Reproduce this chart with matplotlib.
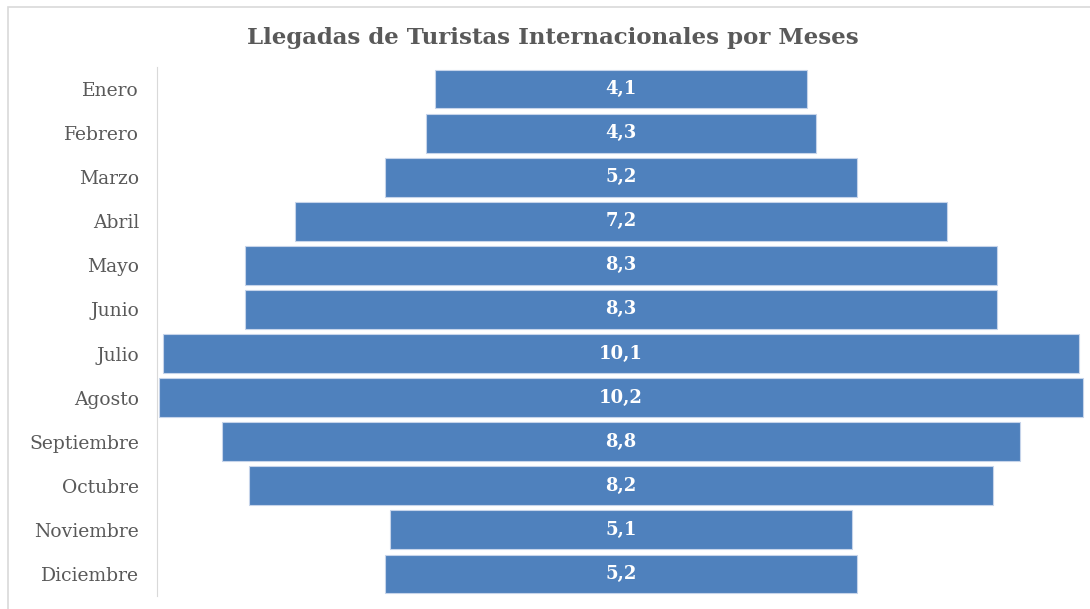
import matplotlib.pyplot as plt
from matplotlib.patches import Rectangle

meses = ['Enero', 'Febrero', 'Marzo', 'Abril', 'Mayo', 'Junio', 'Julio',
         'Agosto', 'Septiembre', 'Octubre', 'Noviembre', 'Diciembre']
llegadas = [4.1, 4.3, 5.2, 7.2, 8.3, 8.3, 10.1, 10.2, 8.8, 8.2, 5.1, 5.2]

plt.rcParams['font.family'] = ['DejaVu Serif']

fig = plt.figure(figsize=(10.9, 6.09), dpi=100)
ax = fig.add_axes([157 / 1090, 1 - 596 / 609, (1085 - 157) / 1090, (596 - 67) / 609])

# marco del grafico
fig.patches.append(Rectangle((8 / 1090, -0.1), 1.1, 1 - 7 / 609 + 0.1,
                             transform=fig.transFigure, fill=False,
                             edgecolor='#d9d9d9', linewidth=1.2))

ypos = list(range(len(meses)))
izq = [-v / 2 for v in llegadas]
ax.barh(ypos, llegadas, left=izq, height=0.88, color='#4f81bd',
        edgecolor='#c6d4ea', linewidth=0.8)

for y, v in zip(ypos, llegadas):
    ax.text(0, y, f'{v:.1f}'.replace('.', ','), ha='center', va='center',
            color='white', fontsize=13, fontweight='bold')

ax.set_xlim(-5.12, 5.12)
ax.set_ylim(11.5, -0.5)
ax.set_yticks(ypos)
ax.set_yticklabels(meses, fontsize=13.5, color='#595959')
ax.tick_params(axis='y', length=0, pad=13)
ax.set_xticks([])
for s in ['top', 'right', 'bottom']:
    ax.spines[s].set_visible(False)
ax.spines['left'].set_color('#d9d9d9')

fig.text(553 / 1090, 1 - 38 / 609, 'Llegadas de Turistas Internacionales por Meses',
         ha='center', va='center', fontsize=16.5, fontweight='bold', color='#595959')

fig.savefig('out.png', dpi=100)
